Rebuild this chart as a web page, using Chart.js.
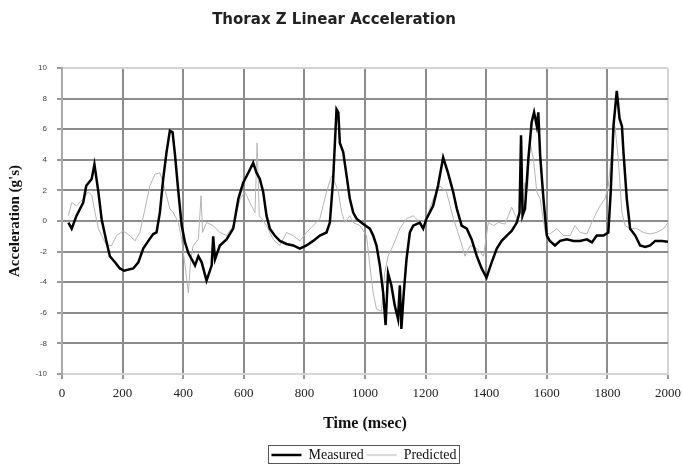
<!DOCTYPE html>
<html lang="en">
<head>
    <meta charset="UTF-8">
    <title>Thorax Z Linear Acceleration</title>
    <script src="https://cdn.jsdelivr.net/npm/chart.js"></script>
    <style>
        body { margin: 0; background: #fff; }
        canvas { display: block; }
    </style>
</head>
<body>
    <canvas id="chart" width="683" height="464"></canvas>

    <script>
        // values (time in msec, acceleration in g's)
        const measuredTime = [21, 32, 48, 70, 80, 98, 107, 120, 131, 145, 158, 175, 191, 205, 235, 252, 268, 285, 301, 312, 323, 334, 345, 356, 365, 373, 384, 395, 406, 417, 428, 439, 450, 461, 477, 494, 499, 505, 521, 543, 565,
            582, 598, 615, 631, 642, 653, 664, 675, 686, 702, 719, 741, 763, 785, 807, 829, 851, 873, 884, 895, 906, 912, 917, 928, 939, 950, 961, 972, 994, 1016, 1027, 1038, 1049, 1060, 1068, 1076, 1087, 1098, 1109, 1115, 1120, 1128, 1137, 1148, 1159, 1181, 1192, 1203, 1225, 1241, 1258, 1274, 1291,
            1303, 1319, 1336, 1352, 1369, 1385, 1401, 1418, 1435, 1451, 1468, 1484, 1501, 1510, 1515, 1520, 1528, 1539, 1550, 1558, 1567, 1572, 1578, 1589, 1600, 1610, 1627, 1644, 1666, 1688, 1710, 1732, 1749, 1765, 1787, 1803, 1811, 1820, 1831, 1840, 1848, 1853, 1864, 1875, 1892, 1908, 1925, 1941, 1958, 1980, 2000];
        const measuredAccel = [-0.1, -0.5, 0.35, 1.2, 2.3, 2.75, 3.7, 1.9, 0.1, -1.2, -2.3, -2.7, -3.1, -3.25, -3.1, -2.7, -1.8, -1.3, -0.85, -0.75, 0.55, 2.75, 4.5, 5.9, 5.8, 4.3, 1.9, -0.3, -1.4, -2.1, -2.5, -2.9, -2.3, -2.7, -3.9, -2.9, -1.0, -2.5, -1.6, -1.2, -0.5,
            1.45, 2.5, 3.15, 3.8, 3.15, 2.75, 1.9, 0.35, -0.5, -0.95, -1.3, -1.5, -1.6, -1.8, -1.6, -1.3, -0.95, -0.75, -0.1, 2.75, 7.3, 7.1, 5.1, 4.5, 3.0, 1.45, 0.55, 0.15, -0.2, -0.5, -0.95, -1.6, -2.9, -4.7, -6.8, -3.4, -4.2, -5.5, -6.4, -4.2, -7.05, -4.7, -2.5, -0.75, -0.3, -0.1, -0.5, 0.15, 1.0, 2.3, 4.15, 3.15, 1.9,
            0.8, -0.3, -0.5, -1.2, -2.3, -3.1, -3.7, -2.7, -1.8, -1.3, -0.95, -0.65, -0.1, 0.55, 5.6, 0.35, 0.8, 4.05, 6.45, 7.1, 6.2, 7.1, 4.3, 1.45, -0.95, -1.3, -1.6, -1.3, -1.2, -1.3, -1.3, -1.2, -1.4, -0.95, -0.95, -0.75, 1.9, 6.2, 8.5, 6.7, 6.2, 4.5, 1.45, -0.5, -0.95, -1.6, -1.7, -1.6, -1.3, -1.3, -1.35];

        const predictedTime = [21, 32, 48, 70, 86, 98, 109, 120, 131, 147, 164, 180, 202, 224, 241, 257, 274, 290, 307, 323, 334, 345, 356, 367, 384, 395, 406, 417, 425, 433, 450, 459, 464, 477, 499, 521, 543, 565,
            588, 604, 620, 637, 644, 651, 675, 697, 719, 741, 763, 785, 807, 829, 851, 873, 890, 901, 912, 923, 934, 950, 961, 983, 1005, 1016, 1027, 1038, 1054, 1065, 1076, 1093, 1115, 1137, 1159, 1181, 1203, 1225, 1247, 1269,
            1292, 1314, 1330, 1347, 1369, 1391, 1407, 1424, 1440, 1462, 1484, 1501, 1517, 1528, 1536, 1545, 1556, 1567, 1578, 1595, 1610, 1633, 1655, 1677, 1693, 1710, 1732, 1754, 1776, 1792, 1803, 1814, 1825, 1836, 1848, 1858, 1875, 1897, 1919, 1941, 1963, 1985, 2000];
        const predictedAccel = [0.35, 1.2, 1.0, 1.45, 1.9, 1.7, 0.55, -0.5, -0.95, -1.6, -1.6, -0.95, -0.65, -0.95, -1.3, -0.75, 0.8, 2.3, 3.05, 3.15, 2.5, 1.65, 0.8, 0.55, -0.1, -1.2, -2.9, -4.7, -2.5, -1.6, -1.2, 1.65, -0.75, -0.1, -0.3, -0.75, -0.95, -0.3,
            1.45, 1.9, 1.2, 0.55, 5.1, 0.35, -0.3, -1.2, -1.6, -0.75, -0.95, -1.3, -0.75, -0.3, 0.15, 1.9, 2.95, 2.5, 1.9, 0.55, -0.1, 0.35, -0.1, -0.3, -0.95, -2.9, -4.7, -5.75, -5.9, -3.4, -2.3, -1.6, -0.5, 0.15, 0.35, -0.1, 0.15, 1.45, 2.3, 1.9,
            0.15, -1.2, -2.3, -1.6, -1.8, -2.3, -0.1, -0.3, -0.1, -0.2, 0.9, 0.15, -0.1, 2.5, 1.9, 5.1, 4.05, 1.9, 1.45, -0.75, -0.85, -0.5, -0.95, -0.95, -0.3, -0.75, -0.85, 0.15, 1.0, 1.45, 2.3, 4.5, 6.2, 4.05, 0.55, -0.3, -0.5, -0.5, -0.75, -0.85, -0.75, -0.5, -0.1];

        const timeRange = [0, 2000];
        const accelRange = [-10, 10];

        const toPoints = (xs, ys) => xs.map((x, i) => ({ x: x, y: ys[i] }));

        // legend sits a little right of centre in the original, and has a frame
        const legendFrame = {
            id: 'legendFrame',
            afterLayout(chart) {
                chart.legend.left += 30;
                chart.legend.right += 30;
            },
            afterDraw(chart) {
                const boxes = chart.legend.legendHitBoxes;
                if (!boxes || !boxes.length) return;
                const left = Math.min(...boxes.map(b => b.left)) - 3;
                const right = Math.max(...boxes.map(b => b.left + b.width)) + 3;
                const top = Math.min(...boxes.map(b => b.top)) - 3;
                const ctx = chart.ctx;
                ctx.save();
                ctx.strokeStyle = '#555';
                ctx.lineWidth = 1;
                ctx.strokeRect(Math.round(left) + 0.5, Math.round(top) + 0.5, Math.round(right - left), chart.height - 1 - Math.round(top));
                ctx.restore();
            }
        };

        const edgeColor = (ctx, lo, hi, loCol) => {
            const v = ctx.tick && ctx.tick.value;
            if (v === lo) return loCol;
            if (v === hi) return '#d4d4d4';
            return '#8c8c8c';
        };

        new Chart(document.getElementById('chart'), {
            type: 'line',
            data: {
                datasets: [{
                    label: 'Measured',
                    data: toPoints(measuredTime, measuredAccel),
                    borderColor: '#000',
                    borderWidth: 2.5,
                    pointRadius: 0,
                    tension: 0
                }, {
                    label: 'Predicted',
                    data: toPoints(predictedTime, predictedAccel),
                    borderColor: '#b5b5b5',
                    borderWidth: 1,
                    pointRadius: 0,
                    tension: 0
                }]
            },
            options: {
                responsive: false,
                animation: false,
                devicePixelRatio: 1,
                layout: { padding: { left: 0, right: 15, top: 0, bottom: -8 } },
                plugins: {
                    title: {
                        display: true,
                        text: 'Thorax Z Linear Acceleration',
                        color: '#222',
                        font: { family: 'DejaVu Sans', weight: 'bold', size: 15 },
                        padding: { top: 11, bottom: 39 }
                    },
                    legend: {
                        position: 'bottom',
                        labels: {
                            usePointStyle: true,
                            pointStyle: 'line',
                            pointStyleWidth: 30,
                            padding: 3,
                            color: '#111',
                            font: { family: 'Liberation Serif', size: 14 }
                        }
                    },
                    tooltip: { enabled: false }
                },
                scales: {
                    x: {
                        type: 'linear',
                        min: timeRange[0],
                        max: timeRange[1],
                        afterFit: s => {
                            s.height = 71;
                            s.paddingLeft = 0;
                            s.paddingRight = 0;
                        },
                        ticks: {
                            stepSize: 200,
                            padding: 7,
                            color: '#222',
                            font: { family: 'Liberation Serif', size: 13 },
                            callback: v => String(v)
                        },
                        grid: {
                            color: c => edgeColor(c, timeRange[0], timeRange[1], '#aaa'),
                            lineWidth: 2,
                            tickColor: '#999',
                            tickLength: 5
                        },
                        border: { color: '#d4d4d4', width: 2 },
                        title: {
                            display: true,
                            text: 'Time (msec)',
                            color: '#111',
                            font: { family: 'Liberation Serif', weight: 'bold', size: 16 },
                            padding: { top: 0, bottom: 12 }
                        }
                    },
                    y: {
                        min: accelRange[0],
                        max: accelRange[1],
                        afterFit: s => { s.width = 62; },
                        ticks: {
                            stepSize: 2,
                            padding: 10,
                            color: '#444',
                            font: { family: 'Liberation Sans', size: 8 },
                            callback: v => String(v)
                        },
                        grid: {
                            color: c => edgeColor(c, accelRange[0], accelRange[1], '#d4d4d4'),
                            lineWidth: 2,
                            tickColor: '#999',
                            tickLength: 5
                        },
                        border: { color: '#aaa', width: 2 },
                        title: {
                            display: true,
                            text: "Acceleration (g's)",
                            color: '#111',
                            font: { family: 'Liberation Serif', weight: 'bold', size: 15 },
                            padding: { top: 6, bottom: 0 }
                        }
                    }
                }
            },
            plugins: [legendFrame]
        });
    </script>
</body>
</html>
